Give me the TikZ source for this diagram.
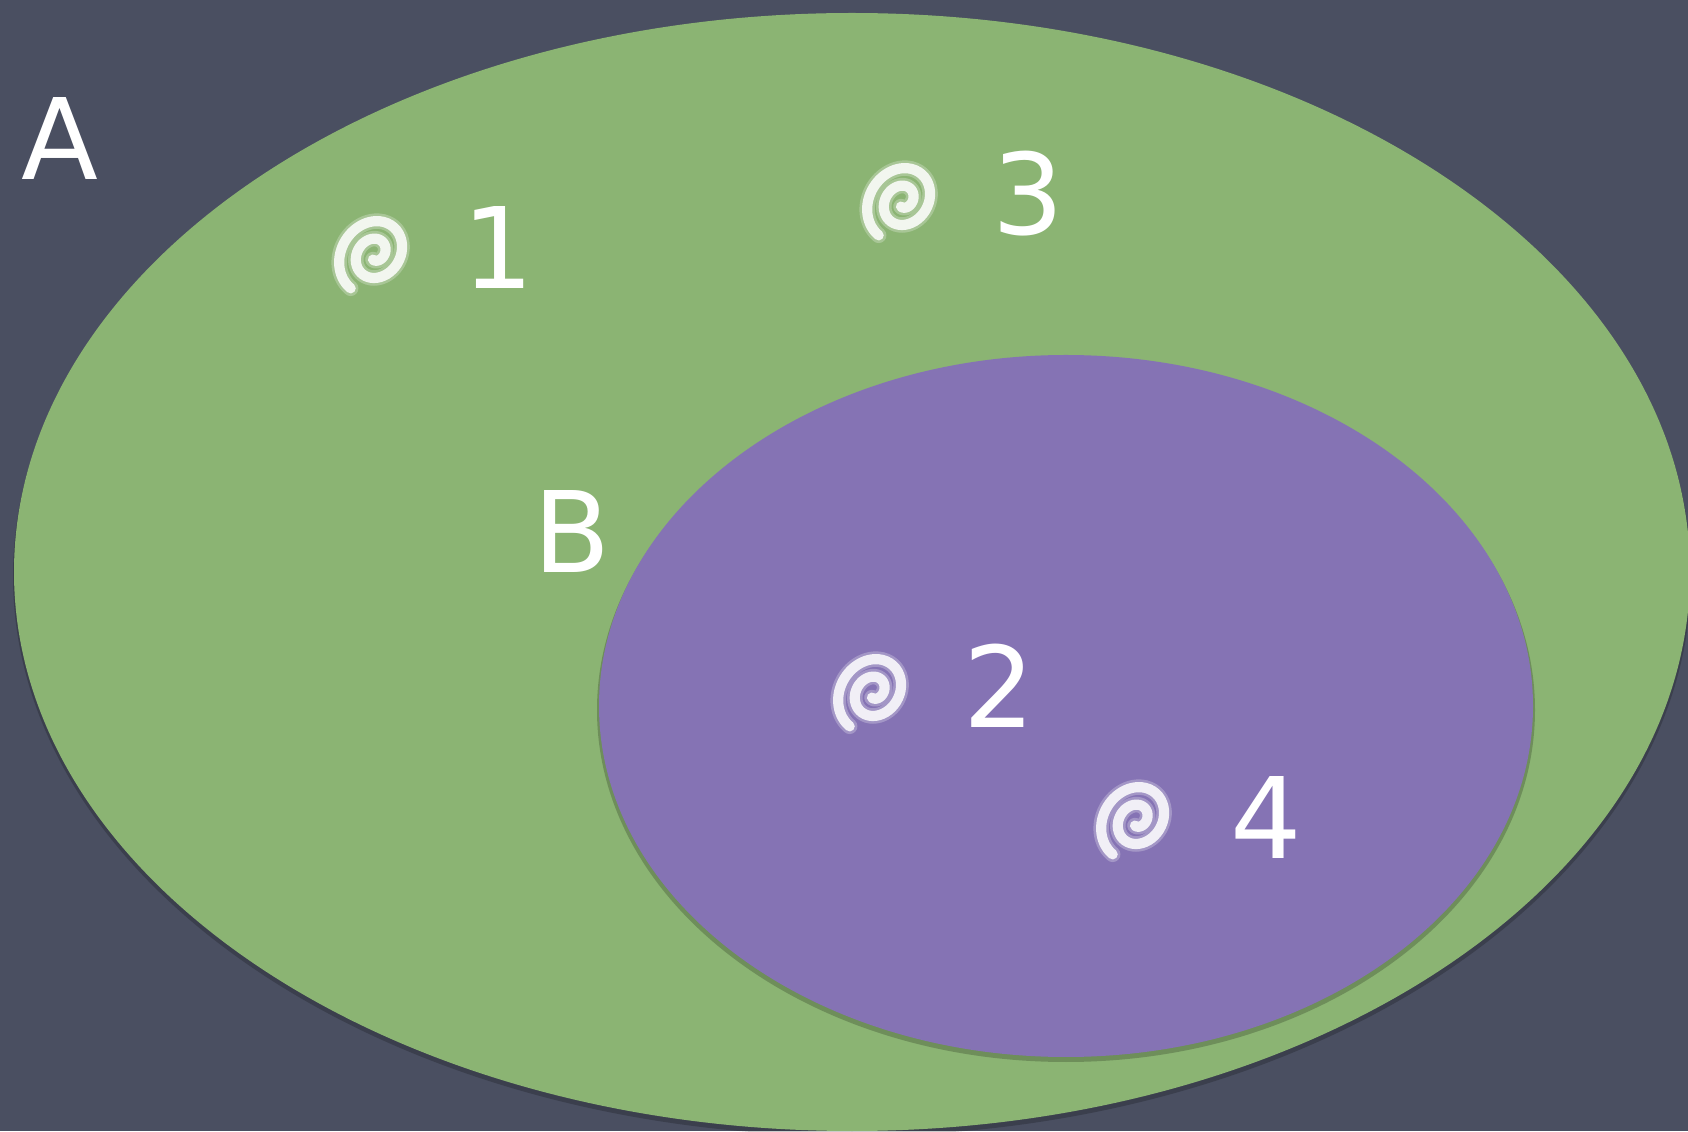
\documentclass[tikz,border=0pt]{standalone}
\usepackage{fontspec}
\setmainfont{DejaVu Sans}
\usetikzlibrary{positioning}

\definecolor{slate}{RGB}{74,79,97}
\definecolor{setgreen}{RGB}{139,180,115}
\definecolor{setpurple}{RGB}{133,115,180}

\tikzset{
  lbl/.style={text=white, font=\fontsize{32}{32}\selectfont, inner sep=0pt},
  chalkmark/.pic={
    \foreach \w/\o in {4.4pt/0.25, 2.9pt/0.85}
      \draw[white, opacity=\o, line width=\w, line cap=round, rotate=55, yscale=0.85]
        plot[domain=0:700, samples=90, smooth]
        ({(0.06+0.36*\x/700)*cos(\x+200)}, {(0.06+0.36*\x/700)*sin(\x+200)-0.04});
  }
}

\begin{document}
\begin{tikzpicture}
  \fill[slate] (0,0) rectangle (16.88,11.31);
  \useasboundingbox (0,0) rectangle (16.88,11.31);
  \fill[black, opacity=0.2] (8.52,5.55) ellipse (8.39 and 5.60);
  \fill[setgreen] (8.52,5.59) ellipse (8.38 and 5.59);
  \fill[black!60!setgreen, opacity=0.35] (10.66,4.21) ellipse (4.69 and 3.52);
  \fill[setpurple] (10.66,4.25) ellipse (4.67 and 3.51);

  \node[lbl] (labelA) at (0.60,9.92) {A};
  \node[lbl] (labelB) at (5.72,5.99) {B};

  \pic (mark1) at (3.72,8.79) {chalkmark};
  \pic (mark3) at (9.00,9.32) {chalkmark};
  \pic (mark2) at (8.71,4.41) {chalkmark};
  \pic (mark4) at (11.34,3.13) {chalkmark};

  \node[lbl] (num1) at (4.98,8.83) {1};
  \node[lbl] (num3) at (10.28,9.37) {3};
  \node[lbl] (num2) at (9.99,4.45) {2};
  \node[lbl] (num4) at (12.66,3.13) {4};
\end{tikzpicture}
\end{document}
